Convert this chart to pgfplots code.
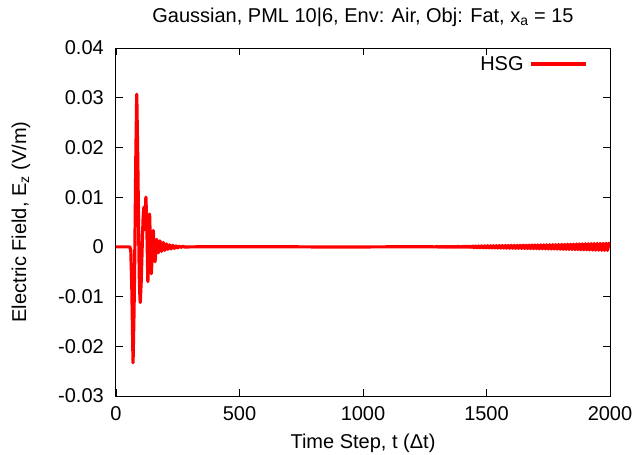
\documentclass[border=0pt]{standalone}
\usepackage{fontspec}
\setmainfont{Liberation Sans}
\usepackage{pgfplots}
\pgfplotsset{compat=1.18}
\begin{document}
\begin{tikzpicture}
\path[use as bounding box] (-116bp,-59bp) rectangle (519bp,396bp);
\begin{axis}[
  at={(0,0)}, anchor=south west,
  scale only axis, width=494bp, height=348bp,
  xmin=0, xmax=2000, ymin=-0.03, ymax=0.04,
  scaled y ticks=false, scaled x ticks=false,
  xtick={0,500,1000,1500,2000}, xticklabels={0,500,1000,1500,2000},
  ytick={-0.03,-0.02,-0.01,0,0.01,0.02,0.03,0.04},
  yticklabels={-0.03,-0.02,-0.01,0,0.01,0.02,0.03,0.04},
  tick align=inside, tick pos=both, major tick length=7bp,
  tick style={black, line width=0.8bp},
  axis line style={black, line width=1bp},
  font=\fontsize{20bp}{24bp}\selectfont,
  xticklabel style={anchor=base, yshift=-24bp, inner sep=0pt},
  yticklabel style={anchor=east, xshift=-12bp, inner sep=0pt},
  title={Gaussian, PML 10|6, Env: Air, Obj: Fat, x\textsubscript{a} = 15},
  title style={at={(axis description cs:0.5,1)}, anchor=base, yshift=20bp, inner sep=0pt},
  xlabel={Time Step, t (Δt)},
  every axis x label/.style={at={(axis description cs:0.5,0)}, anchor=base, yshift=-52bp, inner sep=0pt},
  ylabel={Electric Field, E\textsubscript{z} (V/m)},
  every axis y label/.style={at={(axis description cs:-0.182,0.5)}, rotate=90, anchor=base, inner sep=0pt},
  legend plot pos=right,
  legend style={draw=none, fill=none, at={(axis description cs:1,1)}, anchor=north east,
    xshift=-22bp, yshift=-8bp, inner sep=0pt, column sep=6bp, nodes={inner sep=0pt}},
  legend image code/.code={\draw[#1] (0bp,0bp) -- (55bp,0bp);},
]
\addplot[red, line width=3.2bp, line join=round] coordinates {
(0,0) (56,0) (60,-0.0008) (64,-0.008) (69,-0.0233) (73,-0.013) (77,0.002) (80,0.017)
(84,0.0307) (88,0.018) (92,0.002) (95,-0.008) (98,-0.0112) (102,-0.007) (106,0.000)
(110,0.006) (113,0.0080) (116,0.0035) (121,0.0100) (125,0.004) (129,-0.0070) (132,-0.002)
(136,0.0066) (139,0.001) (143,-0.0054) (147,-0.001) (151,0.0033) (154,0.000) (158,-0.0030)
(161,-0.001) (165,0.0015) (168,0.000) (171,-0.0012) (175,0.000) (178,0.0012) (181,0.000)
(184,-0.0009) (188,0.000) (191,0.0009) (194,0.000) (197,-0.0007) (201,0.000) (204,0.0006)
(207,0) (210,-0.0005) (214,0) (217,0.0004) (223,-0.0004) (230,0.0003) (236,-0.0003)
(243,0.0002) (249,-0.0002) (256,0.00015) (262,-0.0001) (270,0.0001) (280,-0.00005)
(300,0) (600,0.00003) (900,-0.00003) (1200,0.00002) (1294,0)
(1300,0.00008) (1306,-0.00008) (1312,0.00009) (1318,-0.00007) (1324,0.00009) (1330,-0.00008)
(1336,0.0001) (1342,-0.00009) (1348,0.0001) (1354,-0.0001) (1360,0.00011) (1366,-0.0001)
(1372,0.0001) (1378,-0.00011) (1384,0.00012) (1390,-0.00011) (1396,0.00012) (1402,-0.00012)
(1408,0.00013) (1414,-0.00012) (1420,0.00014) (1426,-0.00013) (1432,0.00014) (1438,-0.00015)
(1444,0.00015) (1450,-0.00016) (1456,0.00016) (1462,-0.00017) (1468,0.00018) (1474,-0.00017)
(1480,0.00019) (1486,-0.00018) (1492,0.0002) (1498,-0.0002) (1504,0.00021) (1510,-0.0002)
(1516,0.00022) (1522,-0.00021) (1528,0.00023) (1534,-0.00022) (1540,0.00024) (1546,-0.00023)
(1552,0.00025) (1558,-0.00024) (1564,0.00026) (1570,-0.00025) (1576,0.00027) (1582,-0.00026)
(1588,0.00028) (1594,-0.00028) (1600,0.00029) (1606,-0.00028) (1612,0.0003) (1618,-0.0003)
(1624,0.00031) (1630,-0.0003) (1636,0.00032) (1642,-0.00031) (1648,0.00033) (1654,-0.00032)
(1660,0.00034) (1666,-0.00034) (1672,0.00035) (1678,-0.00034) (1684,0.00036) (1690,-0.00036)
(1696,0.00037) (1702,-0.00036) (1708,0.00038) (1714,-0.00038) (1720,0.0004) (1726,-0.00039)
(1732,0.00041) (1738,-0.0004) (1744,0.00042) (1750,-0.00042) (1756,0.00043) (1762,-0.00043)
(1768,0.00045) (1774,-0.00044) (1780,0.00046) (1786,-0.00046) (1792,0.00048) (1798,-0.00047)
(1804,0.00049) (1810,-0.00049) (1816,0.0005) (1822,-0.0005) (1828,0.00052) (1834,-0.00051)
(1840,0.00054) (1846,-0.00053) (1852,0.00055) (1858,-0.00055) (1864,0.00057) (1870,-0.00056)
(1876,0.00058) (1882,-0.00058) (1888,0.0006) (1894,-0.00059) (1900,0.00062) (1906,-0.00061)
(1912,0.00063) (1918,-0.00062) (1924,0.00065) (1930,-0.00064) (1936,0.00066) (1942,-0.00065)
(1948,0.00068) (1954,-0.00067) (1960,0.00069) (1966,-0.00068) (1972,0.0007) (1978,-0.0007)
(1984,0.00072) (1990,-0.00071) (1996,0.00073) (2000,0)
};
\addlegendentry{HSG}
\end{axis}
\end{tikzpicture}
\end{document}
